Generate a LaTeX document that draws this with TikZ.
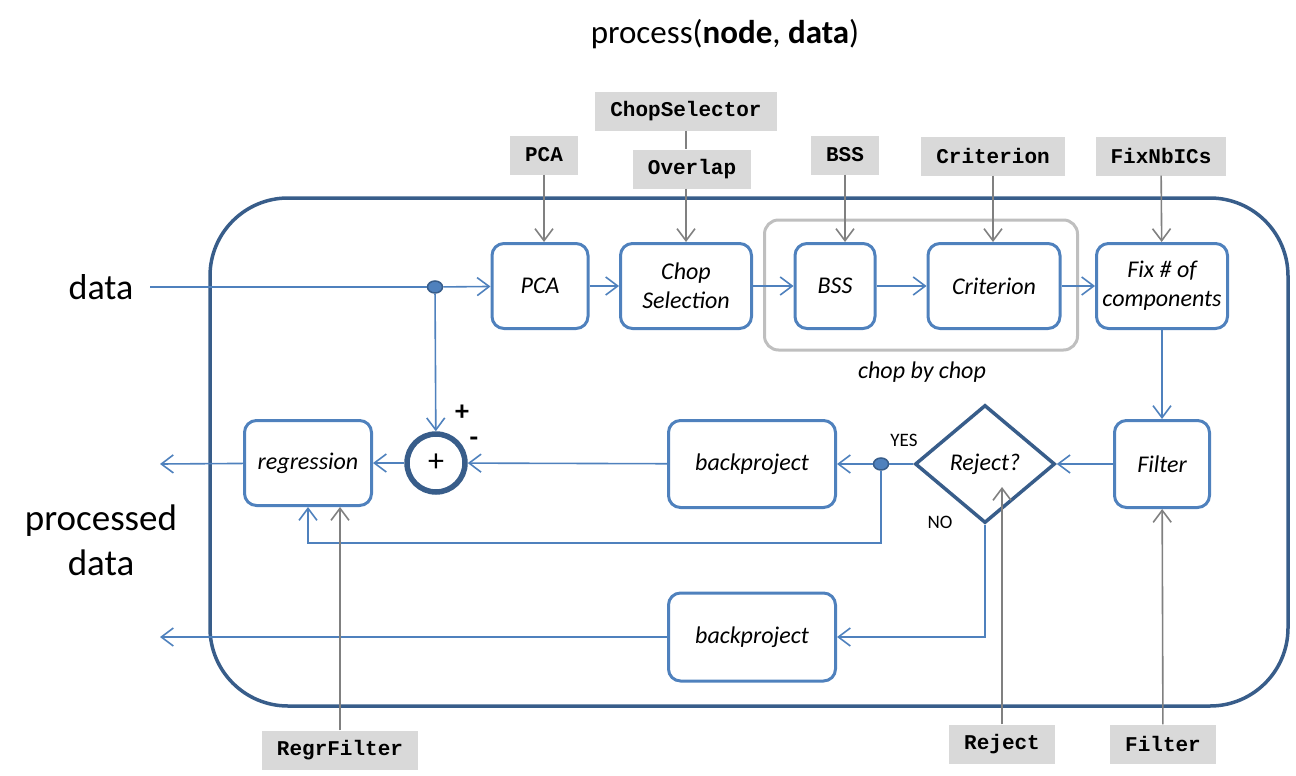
\documentclass[tikz,border=0pt]{standalone}
\usepackage{fontspec}
\setmainfont{Carlito}
\setmonofont{Liberation Mono}
\usetikzlibrary{arrows.meta, shapes.geometric}
\definecolor{boxblue}{HTML}{4F81BD}
\definecolor{darkblue}{HTML}{385D8A}
\definecolor{lblgray}{HTML}{D9D9D9}
\definecolor{argray}{HTML}{808080}
\definecolor{chopgray}{HTML}{BFBFBF}
\tikzset{block/.style n args={2}{
    draw=boxblue, line width=3pt, rounded corners=12pt,
    minimum width=#1, minimum height=#2, inner sep=0pt, align=center,
    font=\fontsize{24}{29}\selectfont\itshape
  },
  param/.style={fill=lblgray, inner xsep=15pt, inner ysep=0pt, minimum height=39pt,
    font=\fontsize{21}{24}\selectfont\ttfamily\bfseries},
  link/.style={draw=boxblue, line width=1.6pt},
  flow/.style={link, -{Straight Barb[length=12pt,width=18pt]}},
  arg/.style={draw=argray, line width=1.6pt, -{Straight Barb[length=12pt,width=18pt]}},
  dot/.style={ellipse, fill=boxblue, draw=darkblue, line width=1.5pt,
    minimum width=15pt, minimum height=12pt, inner sep=0pt}
}
\begin{document}
\begin{tikzpicture}[x=1pt, y=-1pt]
      \useasboundingbox (0,0) rectangle (1296,776);
      \node[draw=darkblue, line width=3.5pt, rounded corners=78pt, minimum width=1078pt, minimum height=508pt] (proc) at (749,452) {};
      \node[draw=chopgray, line width=3pt, rounded corners=14pt, minimum width=313pt, minimum height=130pt] (chopbox) at (921,285) {};
      \node[font=\fontsize{33}{40}\selectfont] (title) at (725,34) {process(\textbf{node}, \textbf{data})};
      \node[font=\fontsize{36}{42}\selectfont] (datain) at (101,287) {data};
      \node[font=\fontsize{37}{45}\selectfont, align=center] (dataout) at (101,540) {processed\\data};
      \node[block={96pt}{85pt}] (pca) at (540,286) {PCA};
      \node[block={131pt}{85pt}] (chop) at (686,286) {Chop\\Selection};
      \node[block={80pt}{85pt}] (bss) at (835,286) {BSS};
      \node[block={132pt}{85pt}] (crit) at (994,286) {Criterion};
      \node[block={131pt}{85pt}] (fix) at (1162,286) {Fix \# of\\components};
      \node[font=\fontsize{24}{29}\selectfont\itshape] (chopby) at (922,372) {chop by chop};
      \node[block={127pt}{85pt}] (regr) at (308,463) {regression};
      \node[circle, draw=darkblue, line width=5.5pt, minimum size=58pt, inner sep=0pt, font=\fontsize{32}{32}\selectfont] (sum) at (436,463) {+};
      \node[font=\fontsize{28}{28}\selectfont\bfseries] (plus) at (462,413) {+};
      \node[font=\fontsize{28}{28}\selectfont\bfseries] (minus) at (474,442) {-};
      \node[block={167pt}{87pt}] (bp1) at (752,464) {backproject};
      \node[diamond, aspect=1.19, draw=darkblue, line width=3.5pt, minimum width=140pt, minimum height=118pt, inner sep=0pt, font=\fontsize{24}{29}\selectfont\itshape] (rej) at (985,464) {Reject?};
      \node[block={95pt}{87pt}] (filt) at (1162,464) {Filter};
      \node[block={167pt}{88pt}] (bp2) at (752,637) {backproject};
      \node[font=\fontsize{19}{22}\selectfont] (yes) at (904,440) {YES};
      \node[font=\fontsize{19}{22}\selectfont] (no) at (940,522) {NO};
      \node[dot] (indot) at (435,287) {};
      \node[dot] (yesdot) at (881,464) {};
      \coordinate (in) at (150,287);
      \coordinate (out1) at (160,464);
      \coordinate (out2) at (160,637);
      \node[param] (pcaL) at (544,155) {PCA};
      \node[param] (chopselL) at (686,111) {ChopSelector};
      \node[param] (overL) at (692,169) {Overlap};
      \node[param] (bssL) at (845,155) {BSS};
      \node[param] (critL) at (993,156) {Criterion};
      \node[param] (fixL) at (1161,156) {FixNbICs};
      \node[param] (regL) at (340,750) {RegrFilter};
      \node[param] (rejL) at (1002,744) {Reject};
      \node[param] (filtL) at (1163,744) {Filter};
      \draw[link] (in) -- (indot);
      \draw[flow] (indot) -- (pca);
      \draw[flow] (indot) -- (sum);
      \draw[flow] (pca) -- (chop);
      \draw[flow] (chop) -- (bss);
      \draw[flow] (bss) -- (crit);
      \draw[flow] (crit) -- (fix);
      \draw[flow] (fix) -- (filt);
      \draw[flow] (filt) -- (rej);
      \draw[link] (rej) -- (yesdot);
      \draw[flow] (yesdot) -- (bp1);
      \draw[flow] (bp1) -- (sum);
      \draw[flow] (sum) -- (regr);
      \draw[flow] (regr) -- (out1);
      \draw[flow] (yesdot) -- ++(0,79) -| (regr);
      \draw[flow] (rej) |- (bp2);
      \draw[flow] (bp2) -- (out2);
      \draw[arg] (pcaL) -- (pcaL |- pca.north);
      \draw[draw=argray, line width=1.6pt] (chopselL.south) -- (chopselL.south |- overL.north);
      \draw[arg] (chop.north |- overL.south) -- (chop);
      \draw[arg] (bssL) -- (bssL |- bss.north);
      \draw[arg] (critL) -- (critL |- crit.north);
      \draw[arg] (fixL) -- (fix);
      \draw[arg] (regL) -- (regL |- regr.south);
      \draw[arg] (rejL) -- ([yshift=-23pt]rejL |- rej.center);
      \draw[arg] (filtL) -- (filt);
    \end{tikzpicture}
\end{document}
